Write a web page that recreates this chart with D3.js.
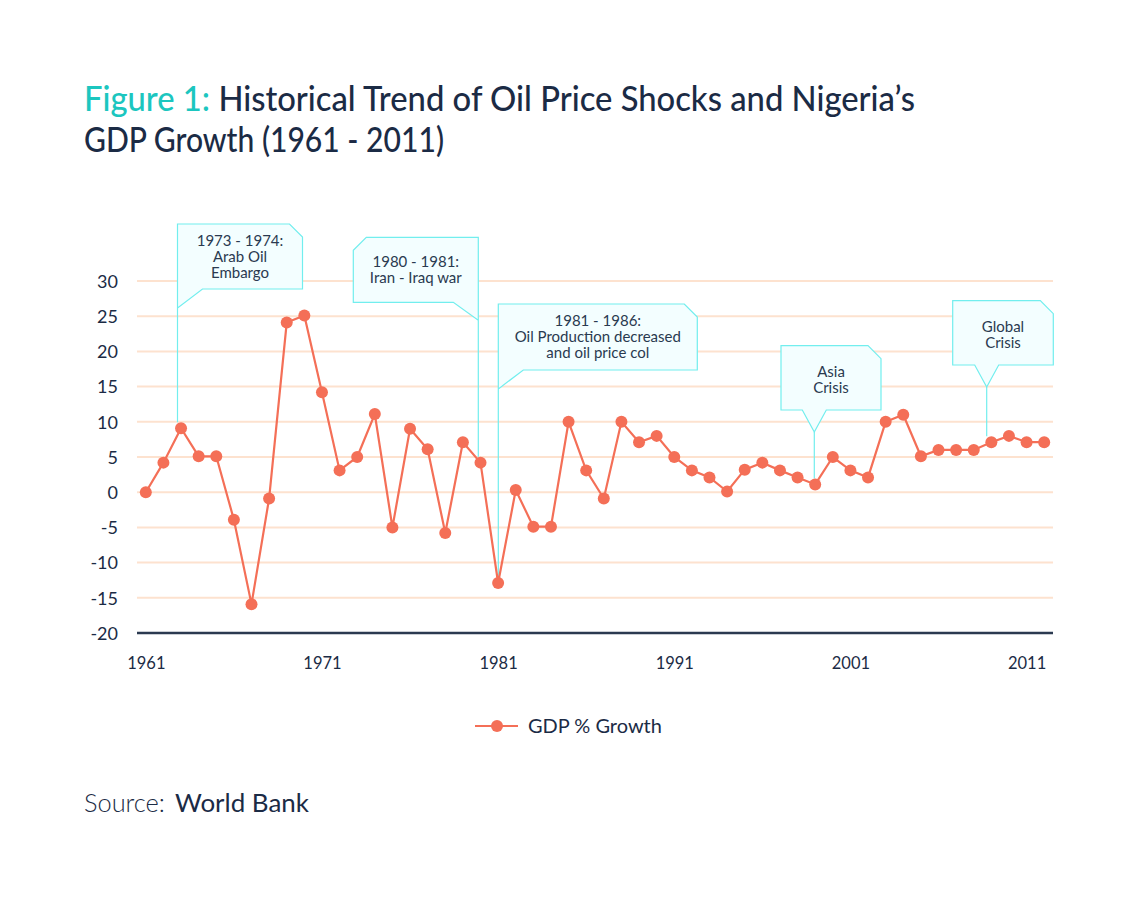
<!DOCTYPE html>
<html><head><meta charset="utf-8">
<script src="https://cdn.jsdelivr.net/npm/d3@7"></script>
<style>body{margin:0;background:#fff}svg{display:block}text{font-family:Lato,"Noto Sans",sans-serif}</style>
</head><body><svg id="c" width="1138" height="898"></svg>
<script>
// ---- data ----
const years = d3.range(1961, 2013);
const gdpGrowth = [0,4.2,9.1,5.1,5.1,-3.9,-15.9,-0.9,24.1,25.1,14.2,3.1,5.0,11.1,-5.0,9.0,6.1,-5.8,7.1,4.2,
  -12.9,0.3,-4.9,-4.9,10.0,3.1,-0.9,10.0,7.1,8.0,5.0,3.1,2.1,0.1,3.2,4.2,3.1,2.1,1.1,5.0,
  3.1,2.1,10.0,11.0,5.1,6.0,6.0,6.0,7.1,8.0,7.1,7.1];
const yTicks = [-20,-15,-10,-5,0,5,10,15,20,25,30];
const xTickYears = [1961,1971,1981,1991,2001,2011];
const annotationTexts = [
  {year:1963, lines:["1973 - 1974:","Arab Oil","Embargo"]},
  {year:1980, lines:["1980 - 1981:","Iran - Iraq war"]},
  {year:1981, lines:["1981 - 1986:","Oil Production decreased","and oil price col"]},
  {year:1999, lines:["Asia","Crisis"]},
  {year:2009, lines:["Global","Crisis"]}
];
// ---- layout (pixels) ----
const boxLayout = [
  {type:"left",  x0:177.5, y0:224,   w:125, h:65, dx:-3.5},
  {type:"right", x0:353.3, y0:237.3, w:125, h:65, dx:-2},
  {type:"left",  x0:498.3, y0:304,   w:199, h:66, dx:0},
  {type:"center",x0:781,   y0:345.7, w:100, h:64.3, px:814.3, dx:-1},
  {type:"center",x0:952.7, y0:300.7, w:100.6, h:64.3, px:986.7, dx:-4.5}
];
const navy = "#1b2b45", coral = "#f46f57", grid = "#fde2cf", teal = "#1cc6bf";
const cyanStroke = "#72eeee", cyanFill = "#f3feff";

const svg = d3.select("#c");
const x = d3.scalePoint().domain(years).range([137,1053]).padding(0.5);
const y = d3.scaleLinear().domain([-20,30]).range([633,281]);

function fit(sel, target){ const w = sel.node().getComputedTextLength(); const fs = parseFloat(sel.attr("font-size")); sel.attr("font-size", fs*target/w); }
function squeeze(sel, target){ sel.attr("textLength", target).attr("lengthAdjust","spacingAndGlyphs"); }

// title
const t1 = svg.append("text").attr("x",84).attr("y",111).attr("font-size",34).attr("font-weight",500).attr("fill",navy);
t1.append("tspan").attr("fill",teal).text("Figure 1: ");
t1.append("tspan").text("Historical Trend of Oil Price Shocks and Nigeria\u2019s");
squeeze(t1, 831);
const t2 = svg.append("text").attr("x",84).attr("y",152).attr("font-size",34).attr("font-weight",500).attr("fill",navy).text("GDP Growth (1961 - 2011)");
squeeze(t2, 360);

// gridlines
svg.append("g").selectAll("line").data(yTicks.filter(d=>d>-20)).join("line")
  .attr("x1",137).attr("x2",1053).attr("y1",d=>y(d)).attr("y2",d=>y(d))
  .attr("stroke",grid).attr("stroke-width",2);
svg.append("line").attr("x1",137).attr("x2",1053).attr("y1",y(-20)).attr("y2",y(-20)).attr("stroke","#2b3a50").attr("stroke-width",2.5);

// y axis
const ya = svg.append("g").attr("transform","translate(118,0)")
  .call(d3.axisLeft(y).tickValues(yTicks).tickSize(0).tickPadding(0).tickFormat(d=>String(d)));
ya.select(".domain").remove();
ya.selectAll("text").attr("font-size",18).attr("fill",navy).attr("font-family","Lato").attr("dy","0.35em");

// x axis
const xa = svg.append("g").attr("transform","translate(0,655)")
  .call(d3.axisBottom(x).tickValues(xTickYears).tickSize(0).tickPadding(0));
xa.select(".domain").remove();
xa.selectAll("text").attr("font-size",16.5).attr("fill",navy).attr("font-family","Lato").attr("dy","0.85em");

// annotations
annotationTexts.forEach((a,i)=>{
  const L = boxLayout[i];
  const idx = years.indexOf(a.year);
  const ax = x(a.year) + L.dx, ay = y(gdpGrowth[idx]) - 6;
  const g = svg.append("g");
  const {x0,y0,w,h} = L; const c = 13;
  let path;
  if (L.type==="left"){
    path = `M${x0},${ay}L${x0},${y0}L${x0+w-c},${y0}L${x0+w},${y0+c}L${x0+w},${y0+h}L${x0+25},${y0+h}L${x0},${y0+h+19}Z`;
  } else if (L.type==="right"){
    const x1 = x0+w;
    path = `M${x1},${ay}L${x1},${y0}L${x0+c},${y0}L${x0},${y0+c}L${x0},${y0+h}L${x1-25},${y0+h}L${x1},${y0+h+18}Z`;
  } else {
    const px = L.px;
    path = `M${x0},${y0}L${x0+w-c},${y0}L${x0+w},${y0+c}L${x0+w},${y0+h}L${px+12},${y0+h}L${px},${y0+h+22}L${px-12},${y0+h}L${x0},${y0+h}Z`;
    g.append("line").attr("x1",px).attr("x2",px).attr("y1",y0+h+22).attr("y2",ay).attr("stroke",cyanStroke).attr("stroke-width",1.2);
  }
  g.insert("path",":first-child").attr("d",path).attr("fill",cyanFill).attr("stroke",cyanStroke).attr("stroke-width",1.2);
  const n = a.lines.length, lh = 16;
  const cy = y0 + h/2 + (L.type==="center" ? 1.5 : 0);
  g.selectAll("text.l").data(a.lines).join("text")
    .attr("x", x0+w/2).attr("y",(d,j)=>cy + (j-(n-1)/2)*lh)
    .attr("dy","0.35em").attr("text-anchor","middle").attr("font-size",15).attr("font-weight",400)
    .attr("fill","#2a3a50").text(d=>d);
});

// line + points
const pts = years.map((yr,i)=>({yr, v:gdpGrowth[i]}));
svg.append("path").datum(pts).attr("fill","none").attr("stroke",coral).attr("stroke-width",2.2)
  .attr("d", d3.line().x(d=>x(d.yr)).y(d=>y(d.v)));
svg.append("g").selectAll("circle").data(pts).join("circle")
  .attr("cx",d=>x(d.yr)).attr("cy",d=>y(d.v)).attr("r",6).attr("fill",coral);

// legend
svg.append("line").attr("x1",475).attr("x2",518).attr("y1",726).attr("y2",726).attr("stroke",coral).attr("stroke-width",2.2);
svg.append("circle").attr("cx",497).attr("cy",726).attr("r",6).attr("fill",coral);
const lt = svg.append("text").attr("x",528).attr("y",733).attr("font-size",19).attr("fill",navy).text("GDP % Growth");
fit(lt,134);

// source
const s1 = svg.append("text").attr("x",84).attr("y",812).attr("font-size",24).attr("font-weight",300).attr("fill",navy).text("Source:");
fit(s1,81);
const s2 = svg.append("text").attr("x",175).attr("y",812).attr("font-size",24).attr("font-weight",400).attr("fill",navy).text("World Bank");
fit(s2,134);
</script></body></html>
